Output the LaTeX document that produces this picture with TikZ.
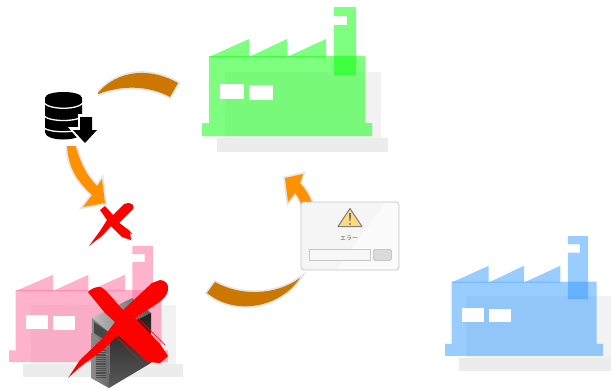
\documentclass[tikz,border=0pt]{standalone}
\usepackage{fontspec}
\newfontfamily\jpfont{Noto Sans CJK JP}
\definecolor{plantgreen}{HTML}{00FF00}
\definecolor{plantpink}{HTML}{FF6699}
\definecolor{plantblue}{HTML}{3399FF}
\definecolor{flowdark}{HTML}{CC7700}
\definecolor{flowlight}{HTML}{FF9000}
\definecolor{flowedge}{HTML}{E6E6E6}
\definecolor{crossred}{HTML}{FF0000}
\definecolor{warnyellow}{HTML}{FFD97A}
\begin{document}
\begin{tikzpicture}[
  x=1pt, y=-1pt,
  plant/.style={fill opacity=0.5},
  ground/.style={fill=black, fill opacity=0.05},
  groundlow/.style={fill=black, fill opacity=0.075},
  darkflow/.style={fill=flowdark, preaction={draw=flowedge, line width=3.6pt}},
  lightflow/.style={fill=flowlight, preaction={draw=flowedge, line width=3.6pt}},
  cross/.style={fill=crossred},
  rag/.style={draw=crossred, line width=0.7pt},
  dbline/.style={draw=white, line width=1.3pt},
  dlgline/.style={draw=black!22, line width=0.8pt}
]
\useasboundingbox (0,0) rectangle (611,388);

% factories
\foreach \xo/\yo/\xs/\ys/\col in {202/7/1/1/plantgreen, 9/246/0.935/0.9/plantpink, 445/236/0.93/0.93/plantblue}{
  \begin{scope}[shift={(\xo,\yo)}, xscale=\xs, yscale=\ys]
    \fill[ground] (23,65) rectangle (179,131);
    \fill[groundlow] (15,131) rectangle (186,145);
    \fill[plant, \col] (7,49) -- (163,49) -- (163,116) -- (170,116) -- (170,129)
      -- (0,129) -- (0,116) -- (7,116) -- cycle;
    \fill[plant, \col] (7,50) -- (47,32) -- (47,50) -- cycle;
    \fill[plant, \col] (47,50) -- (85,32) -- (85,50) -- cycle;
    \fill[plant, \col] (85,50) -- (124,32) -- (124,50) -- cycle;
    \fill[plant, \col] (132,0) -- (154,0) -- (154,68) -- (132,68) -- (132,18)
      -- (145,18) -- (145,9) -- (132,9) -- cycle;
    \fill[white] (18,77) rectangle (42,92);
    \fill[white] (47,78) rectangle (71,93);
  \end{scope}
}

% flow arrows
\path[darkflow] (96,95) .. controls (118,68) and (152,68) .. (178,83) -- (170,97)
  .. controls (150,86) and (122,84) .. cycle;
\path[lightflow] (67,144) .. controls (68,165) and (74,178) .. (92,195) -- (83,207)
  -- (105,203) -- (102,179) -- (97,186) .. controls (86,175) and (80,162) .. (75,144) -- cycle;
\path[darkflow] (215,282) .. controls (240,296) and (275,296) .. (300,278)
  .. controls (280,308) and (235,316) .. (207,293) -- cycle;
\path[lightflow] (302,206) .. controls (300,200) and (298,197) .. (295,193) -- (288,202)
  -- (285,178) -- (303,174) -- (300,183) .. controls (306,190) and (310,196) .. (313,206) -- cycle;

% database icon
\fill[white] (44,91) rectangle (98,146);
\fill (45,98) .. controls (45,90) and (82,90) .. (82,98) -- (82,132)
  .. controls (82,142) and (45,142) .. (45,132) -- cycle;
\draw[dbline] (44,103) .. controls (50,110) and (77,110) .. (83,103);
\draw[dbline] (44,116) .. controls (50,122) and (77,122) .. (83,116);
\draw[dbline] (44,128) .. controls (50,133) and (77,133) .. (83,128);
\fill[white] (78,114) -- (94,114) -- (94,128) -- (100,128) -- (85,147) -- (68,127) -- (78,127) -- cycle;
\fill (80,117) -- (92,117) -- (92,130) -- (97,130) -- (85,143) -- (73,130) -- (80,130) -- cycle;

% error dialog
\node[draw=black!22, fill=black!4, rounded corners=3pt, line width=0.8pt, minimum width=98pt,
  minimum height=68pt, inner sep=0pt] (dialog) at (350,236) {};
\fill[white, fill opacity=0.6] (385,203) -- (398,203) -- (398,266) .. controls (398,268) .. (396,269)
  -- (337,269) -- cycle;
\fill[draw=black!50, fill=warnyellow, line width=1pt, line join=round]
  (350,208.5) -- (362,226.5) -- (338,226.5) -- cycle;
\fill[black!55] (349,213) -- (351,213) -- (350.6,221) -- (349.4,221) -- cycle;
\fill[black!55] (350,224) circle (1.1);
\node[font=\jpfont\fontsize{6}{6}\selectfont, text=black!65, inner sep=0pt] (dlgtext) at (349,238) {エラー};
\node[dlgline, fill=black!3, minimum width=61pt, minimum height=11pt, inner sep=0pt, anchor=north west] (dlgfield) at (309,249) {};
\node[dlgline, fill=black!14, rounded corners=1.5pt, minimum width=18pt, minimum height=11pt, inner sep=0pt, anchor=north west] (dlgbutton) at (373,249) {};

% server
\shade[left color=black!25, right color=black!65] (92,318) -- (132,298) -- (151,313) -- (110,333) -- cycle;
\shade[top color=black!88, bottom color=black!65] (110,333) -- (151,313) -- (151,363) -- (109,388) -- cycle;
\shade[left color=black!45, middle color=black!95, right color=black!60] (92,318) -- (110,333) -- (109,388) -- (91,378) -- cycle;
\fill[black!72] (94,322) -- (108,332) -- (108,342) -- (94,333) -- cycle;
\draw[black!40, line width=0.5pt] (94,337) -- (108,347);
\draw[black!40, line width=0.5pt] (94,345) -- (108,355);
\draw[black!70, line width=10pt, dash pattern=on 0.6pt off 1.2pt] (101,350) -- (101,378);

% crosses
\fill[cross] (128,203) .. controls (132,203) and (135,206) .. (133,209) -- (119,223) -- (130,231)
  -- (131,240) -- (122,237) -- (111,226) -- (103,235) -- (89,246) -- (100,231) -- (107,220)
  -- (100,210) -- (105,206) -- (113,215) -- (124,204) -- cycle;
\fill[cross] (160,280) .. controls (165,280) and (169,284) .. (168,290) .. controls (167,296) and (163,299) .. (158,303)
  -- (135,318) -- (160,344) -- (168,356) -- (160,363) -- (147,362) -- (140,355) -- (118,335)
  -- (103,350) -- (80,367) -- (68,378) -- (80,360) -- (103,338) -- (115,322) -- (105,313) -- (88,292)
  .. controls (92,288) and (96,287) .. (100,287) .. controls (105,288) and (112,298) .. (123,310) -- (152,283) -- cycle;
% rough brush edges
\draw[rag] (137,317) -- (165,345);
\draw[rag] (112,332) -- (137,358) -- (143,364);
\draw[rag] (119,223) -- (132,234);
\end{tikzpicture}
\end{document}
